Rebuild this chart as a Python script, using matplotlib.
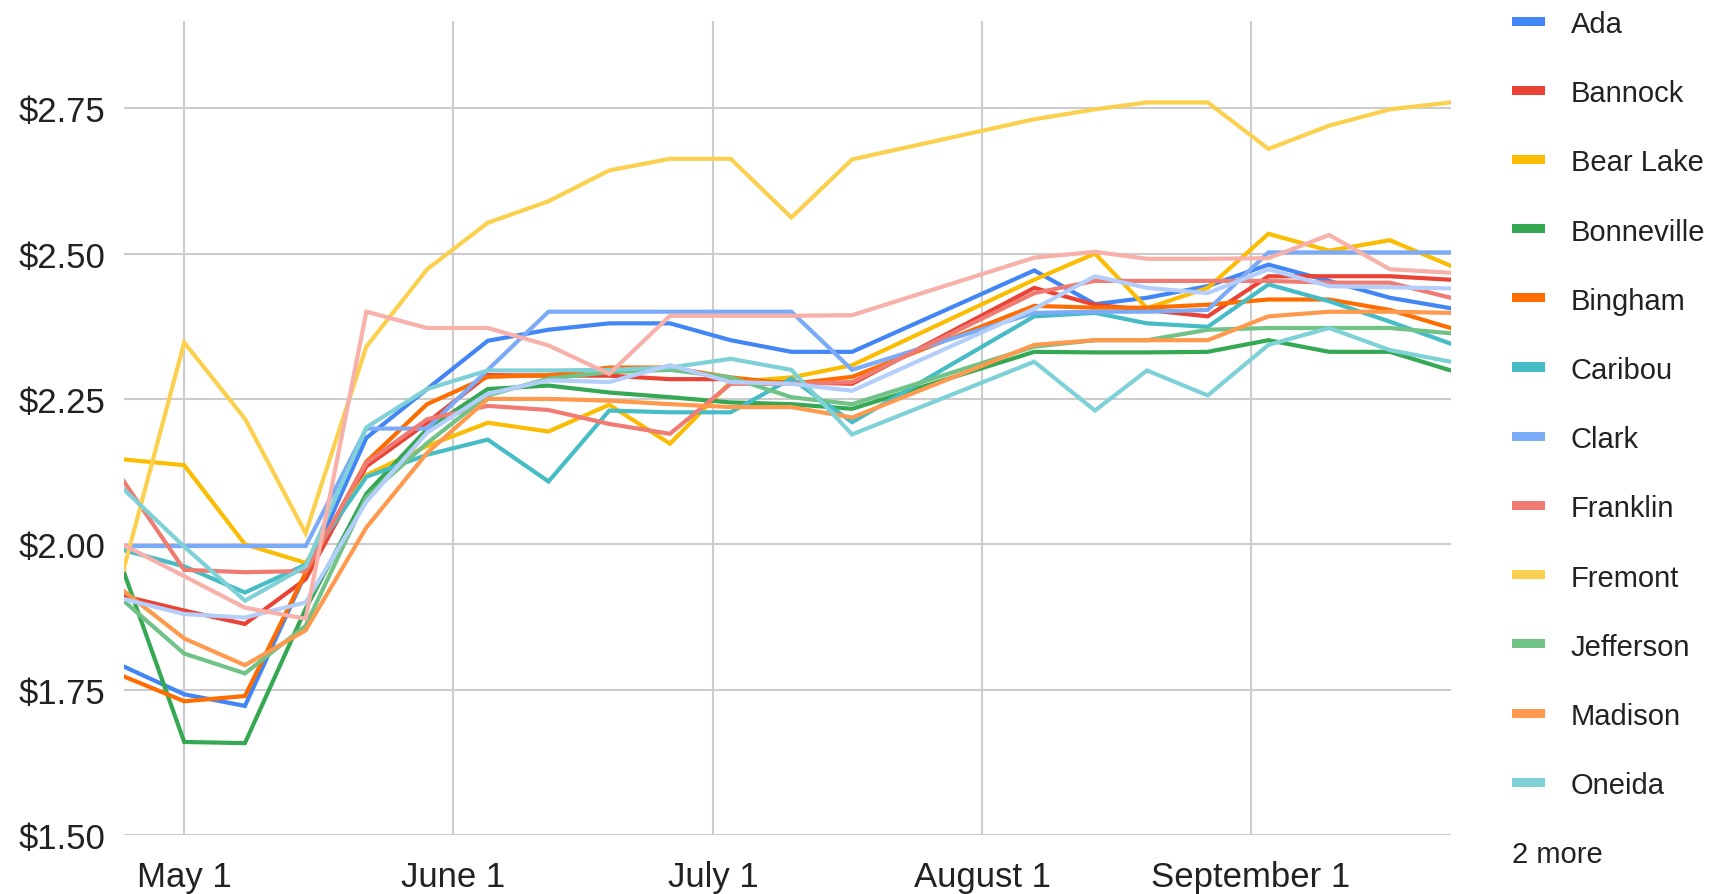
import matplotlib
matplotlib.use("Agg")
import matplotlib.pyplot as plt
import matplotlib.dates as mdates
from matplotlib.patches import Rectangle
import datetime as dt

# ---------------- data ----------------
dates = ["2017-04-24", "2017-05-01", "2017-05-08", "2017-05-15", "2017-05-22",
         "2017-05-29", "2017-06-05", "2017-06-12", "2017-06-19", "2017-06-26",
         "2017-07-03", "2017-07-10", "2017-07-17", "2017-08-07", "2017-08-14",
         "2017-08-20", "2017-08-27", "2017-09-03", "2017-09-10", "2017-09-17",
         "2017-09-24"]

ada        = [1.79, 1.742, 1.722, 1.95, 2.183, 2.267, 2.35, 2.369, 2.38, 2.38, 2.351, 2.331, 2.331, 2.471, 2.413, 2.424, 2.444, 2.481, 2.453, 2.424, 2.406]
bannock    = [1.911, 1.886, 1.863, 1.94, 2.134, 2.209, 2.291, 2.29, 2.29, 2.284, 2.284, 2.279, 2.276, 2.441, 2.412, 2.403, 2.392, 2.461, 2.461, 2.461, 2.455]
bear_lake  = [2.146, 2.136, 2.00, 1.968, 2.119, 2.169, 2.209, 2.194, 2.24, 2.173, 2.279, 2.287, 2.308, 2.455, 2.50, 2.406, 2.441, 2.534, 2.505, 2.523, 2.479]
bonneville = [1.954, 1.66, 1.658, 1.889, 2.087, 2.198, 2.267, 2.273, 2.261, 2.253, 2.244, 2.241, 2.233, 2.331, 2.33, 2.33, 2.331, 2.351, 2.331, 2.331, 2.299]
bingham    = [1.773, 1.73, 1.739, 1.951, 2.142, 2.241, 2.288, 2.291, 2.304, 2.304, 2.287, 2.276, 2.288, 2.41, 2.407, 2.407, 2.412, 2.421, 2.421, 2.403, 2.372]
caribou    = [1.99, 1.962, 1.917, 1.965, 2.116, 2.154, 2.18, 2.108, 2.23, 2.227, 2.227, 2.285, 2.21, 2.392, 2.398, 2.38, 2.374, 2.447, 2.418, 2.383, 2.345]
clark      = [1.997, 1.997, 1.997, 1.997, 2.199, 2.199, 2.30, 2.40, 2.40, 2.40, 2.40, 2.40, 2.30, 2.398, 2.40, 2.40, 2.403, 2.502, 2.502, 2.502, 2.502]
franklin   = [2.109, 1.956, 1.952, 1.954, 2.14, 2.215, 2.238, 2.231, 2.207, 2.19, 2.276, 2.276, 2.279, 2.432, 2.453, 2.453, 2.453, 2.453, 2.45, 2.45, 2.424]
fremont    = [1.956, 2.347, 2.216, 2.019, 2.34, 2.473, 2.553, 2.59, 2.643, 2.663, 2.663, 2.562, 2.662, 2.731, 2.748, 2.76, 2.76, 2.68, 2.72, 2.748, 2.76]
jefferson  = [1.903, 1.812, 1.778, 1.86, 2.081, 2.174, 2.256, 2.285, 2.296, 2.30, 2.287, 2.253, 2.241, 2.34, 2.351, 2.351, 2.369, 2.372, 2.372, 2.372, 2.363]
madison    = [1.92, 1.838, 1.792, 1.852, 2.029, 2.157, 2.25, 2.25, 2.247, 2.241, 2.236, 2.236, 2.218, 2.343, 2.351, 2.351, 2.351, 2.392, 2.40, 2.40, 2.398]
oneida     = [2.095, 1.996, 1.903, 1.962, 2.201, 2.267, 2.299, 2.299, 2.30, 2.304, 2.319, 2.30, 2.189, 2.314, 2.23, 2.299, 2.256, 2.343, 2.372, 2.334, 2.314]
power      = [1.906, 1.88, 1.874, 1.90, 2.073, 2.192, 2.259, 2.282, 2.279, 2.308, 2.279, 2.276, 2.264, 2.405, 2.461, 2.441, 2.432, 2.473, 2.444, 2.442, 2.44]
teton      = [1.999, 1.945, 1.891, 1.872, 2.40, 2.372, 2.372, 2.342, 2.293, 2.393, 2.393, 2.393, 2.394, 2.493, 2.503, 2.491, 2.491, 2.492, 2.532, 2.473, 2.467]

names = ["Ada", "Bannock", "Bear Lake", "Bonneville", "Bingham", "Caribou", "Clark",
         "Franklin", "Fremont", "Jefferson", "Madison", "Oneida", "Power", "Teton"]
series = [ada, bannock, bear_lake, bonneville, bingham, caribou, clark,
          franklin, fremont, jefferson, madison, oneida, power, teton]
colors = ["#4285F4", "#EA4335", "#FBBC04", "#34A853", "#FF6D01", "#46BDC6", "#7BAAF7",
          "#F07B72", "#FCD04F", "#71C287", "#FF994D", "#7ED1D7", "#B3CEFB", "#F7B0AA"]
legend_shown = 12

x_ticks = ["2017-05-01", "2017-06-01", "2017-07-01", "2017-08-01", "2017-09-01"]
x_tick_labels = ["May 1", "June 1", "July 1", "August 1", "September 1"]
y_ticks = [1.50, 1.75, 2.00, 2.25, 2.50, 2.75]
y_tick_labels = ["$1.50", "$1.75", "$2.00", "$2.25", "$2.50", "$2.75"]

# ---------------- figure ----------------
W, H = 1714, 895
plt.rcParams["font.family"] = ["Liberation Sans", "DejaVu Sans"]
fig = plt.figure(figsize=(W / 100, H / 100), dpi=100)
fig.patch.set_facecolor("white")

left, right, top, bottom = 123.5, 1450.6, 22, 836
ax = fig.add_axes([left / W, 1 - bottom / H, (right - left) / W, (bottom - top) / H])

xd = [dt.datetime.strptime(d, "%Y-%m-%d") for d in dates]
for name, vals, col in zip(names, series, colors):
    ax.plot(xd, vals, color=col, lw=3.0, solid_joinstyle="miter", zorder=3, label=name)

ax.set_xlim(xd[0], xd[-1])
ax.set_ylim(1.5, 2.9)
ax.set_yticks(y_ticks)
ax.set_yticklabels(y_tick_labels)
ax.set_xticks([dt.datetime.strptime(d, "%Y-%m-%d") for d in x_ticks])
ax.set_xticklabels(x_tick_labels)
ax.grid(True, color="#cccccc", lw=1.5, zorder=1)
for s in ax.spines.values():
    s.set_visible(False)
ax.tick_params(axis="both", length=0, labelsize=25, colors="#222222")
ax.tick_params(axis="y", pad=13)
ax.tick_params(axis="x", pad=18)

# ---------------- legend (drawn manually, Google-Charts style) ----------------
sw_x0, sw_x1 = 1512, 1545
txt_x = 1571
row0, row_gap = 22, 69.2
for k in range(legend_shown):
    yc = row0 + row_gap * k
    fig.add_artist(Rectangle((sw_x0 / W, 1 - (yc + 4.5) / H), (sw_x1 - sw_x0) / W, 9 / H,
                             transform=fig.transFigure, color=colors[k], lw=0))
    fig.text(txt_x / W, 1 - yc / H, names[k], fontsize=21, color="#222222",
             ha="left", va="center_baseline")
fig.text(sw_x0 / W, 1 - (row0 + row_gap * legend_shown) / H,
         f"{len(names) - legend_shown} more", fontsize=21, color="#222222",
         ha="left", va="center_baseline")

fig.savefig("out.png", dpi=100, facecolor="white")
